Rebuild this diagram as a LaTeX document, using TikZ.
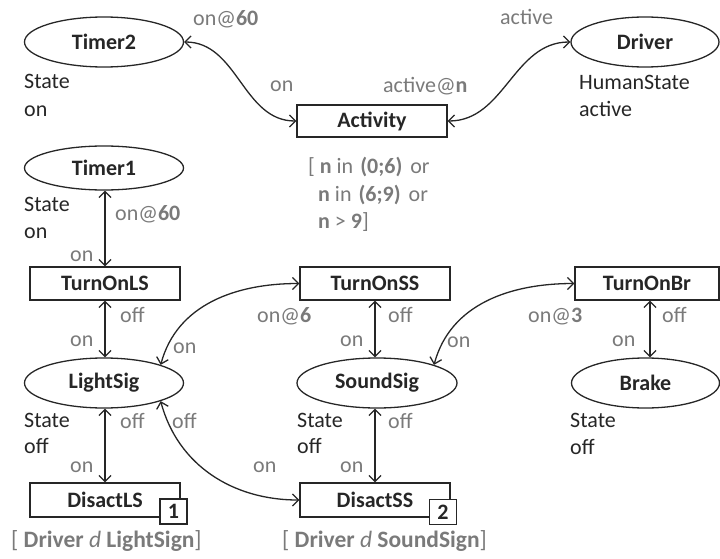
\documentclass[tikz,border=0pt]{standalone}
\usepackage{fontspec}
\setmainfont{Carlito}
\usetikzlibrary{shapes.geometric,arrows.meta}
\definecolor{lbl}{RGB}{122,122,122}
\definecolor{ink}{RGB}{38,38,38}
\begin{document}
\begin{tikzpicture}[x=1pt,y=1pt,
  every node/.style={font=\fontsize{22}{27}\selectfont, inner sep=0pt},
  place/.style={ellipse, draw=ink, line width=1.3pt, minimum width=159pt, minimum height=50pt,
    font=\fontsize{22}{27}\selectfont\bfseries, text=ink},
  trans/.style={rectangle, draw=ink, line width=1.3pt, minimum width=150pt, minimum height=33pt,
    font=\fontsize{22}{27}\selectfont\bfseries, text=ink},
  tag/.style={rectangle, draw=ink, fill=white, line width=1.3pt, minimum width=27pt, minimum height=25pt,
    font=\fontsize{22}{27}\selectfont\bfseries, text=ink},
  lab/.style={anchor=base west, text=lbl},
  txt/.style={anchor=base west, text=ink},
  arc/.style={draw=ink, line width=1.3pt,
    {Straight Barb[length=6pt,width=12pt]}-{Straight Barb[length=6pt,width=12pt]}}
]
\useasboundingbox (0,0) rectangle (720,-559);

% places and transitions
\node[place] (timer2) at (104,-42) {Timer2};
\node[place, minimum width=148pt] (driver) at (645,-42) {Driver};
\node[trans, minimum height=32pt] (activity) at (372,-121) {Activity};
\node[place, minimum height=44pt] (timer1) at (104,-168) {Timer1};
\node[trans] (turnonls) at (105,-283.5) {TurnOnLS};
\node[trans] (turnonss) at (375,-283.5) {TurnOnSS};
\node[trans, minimum width=144pt] (turnonbr) at (647,-283.5) {TurnOnBr};
\node[place] (lightsig) at (104,-383) {LightSig};
\node[place, minimum width=160pt] (soundsig) at (377,-383) {SoundSig};
\node[place, minimum width=148pt] (brake) at (645.5,-383) {Brake};
\node[trans, minimum height=34pt] (disactls) at (105,-500) {DisactLS};
\node[trans, minimum height=34pt] (disactss) at (375,-500) {DisactSS};
\node[tag] (tag1) at (173.5,-511.5) {1};
\node[tag] (tag2) at (443,-512) {2};

% connectors
\draw[arc] (timer2.east) to[out=0,in=180] (activity.west);
\draw[arc] (activity.east) to[out=0,in=180] (driver.west);
\draw[arc] (turnonls.north) -- (turnonls.north |- timer1.south);
\draw[arc] (turnonls.south) -- (turnonls.south |- lightsig.north);
\draw[arc] (disactls.north) -- (disactls.north |- lightsig.south);
\draw[arc] (turnonss.south) -- (turnonss.south |- soundsig.north);
\draw[arc] (disactss.north) -- (disactss.north |- soundsig.south);
\coordinate (brx) at ([xshift=3pt]turnonbr.south);
\draw[arc] (brx) -- (brx |- brake.north);
\draw[arc] (lightsig.north east) to[out=75,in=180] (turnonss.west);
\draw[arc] (lightsig.south east) to[out=-75,in=180] (disactss.west);
\draw[arc] (soundsig.north east) to[out=75,in=180] (turnonbr.west);

% labels
\node[lab] (l1) at (193,-26) {on@\textbf{60}};
\node[lab] (l2) at (270,-92) {on};
\node[lab] (l3) at (500,-25) {active};
\node[lab] (l4) at (383,-93) {active@\textbf{n}};
\node[txt] (s1) at (24,-89) {State};
\node[txt] (s2) at (24,-117) {on};
\node[txt] (s3) at (579,-90) {HumanState};
\node[txt] (s4) at (579,-117) {active};
\node[txt] (s5) at (24,-211) {State};
\node[txt] (s6) at (24,-238) {on};
\node[lab] (l5) at (115,-220) {on@\textbf{60}};
\node[lab] (l6) at (70,-261) {on};
\node[lab] (g1) at (308,-173) {[ \textbf{n} in\hspace{7pt}\textbf{(0;6)}\hspace{8pt}or};
\node[lab] (g2) at (318,-201) {\textbf{n} in\hspace{7pt}\textbf{(6;9)}\hspace{8pt}or};
\node[lab] (g3) at (318,-228) {\textbf{n} > \textbf{9}]};

\node[lab] (l7) at (120,-322) {off};
\node[lab] (l8) at (70,-346) {on};
\node[lab] (l9) at (120,-428) {off};
\node[lab] (l10) at (70,-472) {on};
\node[txt] (s7) at (24,-427) {State};
\node[txt] (s8) at (24,-453) {off};

\node[lab] (l11) at (257,-322) {on@\textbf{6}};
\node[lab] (l12) at (173,-353) {on};
\node[lab] (l13) at (172,-428) {off};
\node[lab] (l14) at (253,-472) {on};

\node[lab] (l15) at (388,-322) {off};
\node[lab] (l16) at (340,-346) {on};
\node[lab] (l17) at (388,-428) {off};
\node[lab] (l18) at (340,-472) {on};
\node[txt] (s9) at (297,-427) {State};
\node[txt] (s10) at (297,-453) {off};

\node[lab] (l19) at (528,-322) {on@\textbf{3}};
\node[lab] (l20) at (447,-347) {on};
\node[lab] (l21) at (662,-322) {off};
\node[lab] (l22) at (612,-346) {on};
\node[txt] (s11) at (570,-427) {State};
\node[txt] (s12) at (570,-454) {off};

\node[lab, font=\fontsize{23.5}{28}\selectfont] (b1) at (11,-547) {[ \textbf{Driver} \textit{d} \textbf{LightSign}]};
\node[lab, font=\fontsize{23.5}{28}\selectfont] (b2) at (282,-547) {[ \textbf{Driver} \textit{d} \textbf{SoundSign}]};
\end{tikzpicture}
\end{document}
